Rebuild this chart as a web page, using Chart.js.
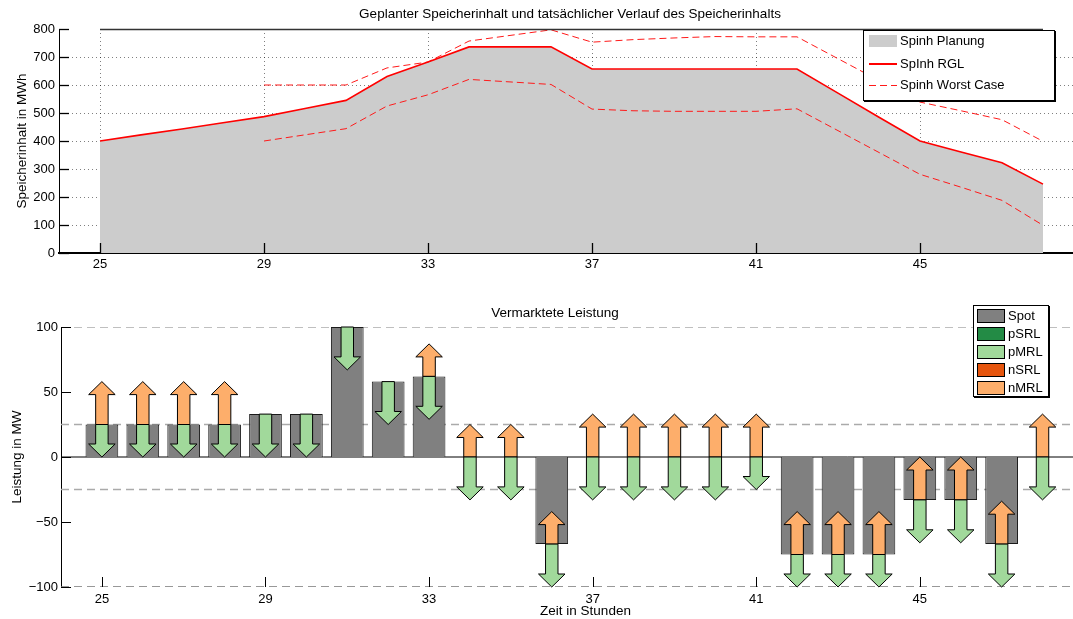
<!DOCTYPE html>
<html lang="de">
<head>
<meta charset="utf-8">
<title>Speicherinhalt und vermarktete Leistung</title>
<script src="https://cdn.jsdelivr.net/npm/chart.js@4.4.0/dist/chart.umd.min.js"></script>
<style>
  html, body { margin: 0; padding: 0; width: 1073px; height: 619px; overflow: hidden; background: #fff; }
  body { position: relative; font-family: "Liberation Sans", Arial, sans-serif; }
  #oben { position: absolute; left: 0; top: 0; }
  #unten { position: absolute; left: 0; top: 290px; }
  .legende { position: absolute; background: #fff; border: 1px solid #000; box-shadow: 1px 1px 0 #000; font-size: 13px; color: #000; }
  .legende .txt { position: absolute; white-space: nowrap; line-height: 16px; }
  .legende .feld { position: absolute; box-sizing: border-box; }
</style>
</head>
<body>
<canvas id="oben" width="1140" height="280"></canvas>
<canvas id="unten" width="1150" height="329"></canvas>
<div class="legende" id="legOben" style="left:863px; top:30px; width:190px; height:69px;"></div>
<div class="legende" id="legUnten" style="left:973px; top:305px; width:74px; height:90px;"></div>

<script>
// Stunden des Planungshorizonts
const stunden = [25, 26, 27, 28, 29, 30, 31, 32, 33, 34, 35, 36, 37, 38, 39, 40, 41, 42, 43, 44, 45, 46, 47, 48];
const xTicks = [25, 29, 33, 37, 41, 45];

// Speicherinhalt in MWh
const spinhPlanung = [400, 422, 443, 465, 487, 516, 545, 630, 682, 736, 736, 736, 657, 657, 657, 657, 657, 657, 571, 485, 400, 361, 322, 246];
const spinhRGL     = [400, 422, 443, 465, 487, 516, 545, 630, 682, 736, 736, 736, 657, 657, 657, 657, 657, 657, 571, 485, 400, 361, 322, 246];
const worstOben    = [null, null, null, null, 600, 600, 600, 661, 682, 757, 777, 797, 753, 762, 768, 773, 772, 772, 694, 616, 539, 508, 476, 399];
const worstUnten   = [null, null, null, null, 400, 422, 444, 525, 565, 620, 611, 602, 514, 508, 506, 506, 506, 515, 437, 359, 281, 235, 188, 99];
const yTicksOben = [0, 100, 200, 300, 400, 500, 600, 700, 800];

// Vermarktete Leistung in MW
const spot = [25, 25, 25, 25, 33, 33, 100, 58, 62, 0, 0, -67, 0, 0, 0, 0, 0, -75, -75, -75, -33, -33, -67, 0];
const pSRL = [0, 0, 0, 0, 0, 0, 0, 0, 0, 0, 0, 0, 0, 0, 0, 0, 0, 0, 0, 0, 0, 0, 0, 0];
const pMRL = [25, 25, 25, 25, 33, 33, 33, 33, 33, 33, 33, 33, 33, 33, 33, 33, 25, 25, 25, 25, 33, 33, 33, 33];
const nSRL = [0, 0, 0, 0, 0, 0, 0, 0, 0, 0, 0, 0, 0, 0, 0, 0, 0, 0, 0, 0, 0, 0, 0, 0];
const nMRL = [33, 33, 33, 33, 0, 0, 0, 0, 25, 25, 25, 25, 33, 33, 33, 33, 33, 33, 33, 33, 33, 33, 33, 33];
const grenzen = [100, 25, -25, -100];
const yTicksUnten = [-100, -50, 0, 50, 100];

// sichtbarer Zeitbereich der Achsen
const xMin = 24;
const xMaxOben = 49;
const xMaxUnten = 49.65;

const schrift = '"Liberation Sans", Arial, sans-serif';
Chart.defaults.font.family = schrift;
Chart.defaults.font.size = 13;
Chart.defaults.color = '#000';

function punkte(werte) {
    return stunden.map((h, i) => ({ x: h, y: werte[i] }));
}

// Pfeile: vom Spot-Wert aus nach oben (n) oder unten (p)
function pfeilDaten(menge, richtung) {
    const out = [];
    stunden.forEach((h, i) => {
        if (menge[i] !== 0) out.push({ x: h, y: [spot[i], spot[i] + richtung * menge[i]] });
    });
    return out;
}

// kleine Striche nach innen, wie bei Matlab
const innenTicks = {
    id: 'innenTicks',
    afterDraw(chart, args, opts) {
        const { ctx, chartArea: a, scales } = chart;
        const len = opts.laenge || 10;
        ctx.save();
        ctx.strokeStyle = '#000';
        ctx.lineWidth = opts.breite || 1;
        scales.x.ticks.forEach(t => {
            const px = Math.round(scales.x.getPixelForValue(t.value)) + 0.5;
            ctx.beginPath();
            ctx.moveTo(px, a.bottom);
            ctx.lineTo(px, a.bottom - len);
            ctx.stroke();
        });
        scales.y.ticks.forEach(t => {
            const py = Math.round(scales.y.getPixelForValue(t.value)) + 0.5;
            ctx.beginPath();
            ctx.moveTo(a.left, py);
            ctx.lineTo(a.left + len, py);
            ctx.stroke();
        });
        ctx.restore();
    }
};

// obere Rahmenlinie nur ueber dem Datenbereich
const rahmenOben = {
    id: 'rahmenOben',
    afterDraw(chart) {
        const { ctx, scales } = chart;
        const py = Math.round(scales.y.getPixelForValue(scales.y.max)) + 0.5;
        ctx.save();
        ctx.strokeStyle = '#333';
        ctx.lineWidth = 1.5;
        ctx.beginPath();
        ctx.moveTo(scales.x.getPixelForValue(stunden[0]), py);
        ctx.lineTo(scales.x.getPixelForValue(stunden[stunden.length - 1]), py);
        ctx.stroke();
        ctx.restore();
    }
};

// zeichnet die Regelleistungs-Balken als Pfeile (Start = Spot, Ende = Spot +/- Menge)
const pfeile = {
    id: 'pfeile',
    afterDatasetsDraw(chart) {
        const { ctx, scales } = chart;
        const ys = scales.y;
        const kopf = Math.abs(ys.getPixelForValue(0) - ys.getPixelForValue(10));
        const liste = chart.data.datasets.map((ds, i) => i).filter(i => chart.data.datasets[i].pfeilFarbe).reverse();
        ctx.save();
        ctx.beginPath();
        ctx.rect(chart.chartArea.left, chart.chartArea.top - 2, chart.chartArea.width, chart.chartArea.height + 4);
        ctx.clip();
        liste.forEach(i => {
            const ds = chart.data.datasets[i];
            const meta = chart.getDatasetMeta(i);
            ds.data.forEach((d, j) => {
                const el = meta.data[j];
                if (!el) return;
                const px = el.x;
                const start = ys.getPixelForValue(d.y[0]);
                const ende = ys.getPixelForValue(d.y[1]);
                const dir = ende > start ? 1 : -1;
                const hw = el.width / 2;
                const sw = el.width * 0.235;
                const hy = ende - dir * kopf;
                ctx.beginPath();
                ctx.moveTo(px - sw, start);
                ctx.lineTo(px - sw, hy);
                ctx.lineTo(px - hw, hy);
                ctx.lineTo(px, ende);
                ctx.lineTo(px + hw, hy);
                ctx.lineTo(px + sw, hy);
                ctx.lineTo(px + sw, start);
                ctx.closePath();
                ctx.fillStyle = ds.pfeilFarbe;
                ctx.fill();
                ctx.strokeStyle = '#000';
                ctx.lineWidth = 1;
                ctx.stroke();
            });
        });
        ctx.restore();
    }
};

// leere rechte Achse, damit der Titel ueber die ganze Breite zentriert bleibt
const rechtsLeer = (breite) => ({
    position: 'right',
    display: true,
    afterFit: s => { s.width = breite; },
    grid: { display: false },
    border: { display: false },
    ticks: { display: false }
});

// ---------- Speicherinhalt ----------
new Chart(document.getElementById('oben'), {
    type: 'line',
    data: {
        datasets: [
            { label: 'SpInh RGL', data: punkte(spinhRGL), borderColor: '#ff0000', borderWidth: 1.6, pointRadius: 0, fill: false, order: 1 },
            { label: 'Spinh Worst Case', data: punkte(worstOben), borderColor: '#ff1a1a', borderWidth: 1, borderDash: [7, 4], pointRadius: 0, fill: false, order: 2 },
            { label: 'Spinh Worst Case', data: punkte(worstUnten), borderColor: '#ff1a1a', borderWidth: 1, borderDash: [7, 4], pointRadius: 0, fill: false, order: 3 },
            { label: 'Spinh Planung', data: punkte(spinhPlanung), borderWidth: 0, backgroundColor: '#cccccc', pointRadius: 0, fill: 'origin', order: 4 }
        ]
    },
    options: {
        responsive: false,
        animation: false,
        devicePixelRatio: 1,
        layout: { padding: 0 },
        plugins: {
            legend: { display: false },
            tooltip: { enabled: false },
            title: {
                display: true,
                text: 'Geplanter Speicherinhalt und tatsächlicher Verlauf des Speicherinhalts',
                font: { size: 13.5, weight: 'normal' },
                color: '#000',
                padding: { top: 5.9, bottom: 6.9 }
            },
            innenTicks: { laenge: 10, breite: 1.3 }
        },
        scales: {
            x: {
                type: 'linear', min: xMin, max: xMaxOben, z: 1, offset: false,
                afterBuildTicks: s => { s.ticks = xTicks.map(v => ({ value: v })); },
                afterFit: s => { s.height = 27; },
                grid: { color: 'rgba(0,0,0,0.5)', drawTicks: false },
                border: { display: true, color: '#000', width: 2, dash: [1, 3] },
                ticks: { padding: 4, maxRotation: 0, autoSkip: false }
            },
            y: {
                min: 0, max: 800, z: 1,
                afterBuildTicks: s => { s.ticks = yTicksOben.map(v => ({ value: v })); },
                afterFit: s => { s.width = 59; },
                grid: {
                    color: c => (c.tick && (c.tick.value === 0 || c.tick.value === 800)) ? 'rgba(0,0,0,0)' : 'rgba(0,0,0,0.5)',
                    drawTicks: false
                },
                border: { display: true, color: '#000', width: 1, dash: [1, 3] },
                ticks: { padding: 4 },
                title: { display: true, text: 'Speicherinhalt in MWh', font: { size: 13.5 }, padding: { top: 13.9, bottom: 0 } }
            },
            rechts: rechtsLeer(56)
        }
    },
    plugins: [innenTicks, rahmenOben]
});

// ---------- Vermarktete Leistung ----------
const refLinien = grenzen.map(g => ({
    type: 'line',
    label: 'Grenze ' + g,
    data: [{ x: xMin, y: g }, { x: xMaxUnten, y: g }],
    borderColor: g === -100 ? '#777777' : '#aaaaaa',
    borderWidth: 1.3,
    borderDash: [8, 5],
    pointRadius: 0,
    order: 10
}));

const pfeilSet = (label, daten, farbe) => ({
    type: 'bar',
    label: label,
    data: daten,
    pfeilFarbe: farbe,
    backgroundColor: 'rgba(0,0,0,0)',
    borderWidth: 0,
    barPercentage: 0.648,
    categoryPercentage: 1,
    grouped: false,
    order: 3
});

new Chart(document.getElementById('unten'), {
    data: {
        datasets: [
            { type: 'bar', label: 'Spot', data: punkte(spot), backgroundColor: '#808080', borderColor: '#1a1a1a', borderWidth: 1, barPercentage: 0.8, categoryPercentage: 1, grouped: false, order: 5 },
            pfeilSet('pSRL', pfeilDaten(pSRL, -1), '#238b45'),
            pfeilSet('pMRL', pfeilDaten(pMRL, -1), '#a1d99b'),
            pfeilSet('nSRL', pfeilDaten(nSRL, 1), '#e6550d'),
            pfeilSet('nMRL', pfeilDaten(nMRL, 1), '#fdae6b'),
            { type: 'line', label: 'Null', data: [{ x: xMin, y: 0 }, { x: xMaxUnten, y: 0 }], borderColor: '#000', borderWidth: 1, pointRadius: 0, order: 9 },
            ...refLinien
        ]
    },
    options: {
        responsive: false,
        animation: false,
        devicePixelRatio: 1,
        layout: { padding: { left: 0, top: 0, bottom: 0, right: 40 } },
        plugins: {
            legend: { display: false },
            tooltip: { enabled: false },
            title: {
                display: true,
                text: 'Vermarktete Leistung',
                font: { size: 13.5, weight: 'normal' },
                color: '#000',
                padding: { top: 14.9, bottom: 5.9 }
            },
            innenTicks: { laenge: 10, breite: 1 }
        },
        scales: {
            x: {
                type: 'linear', min: xMin, max: xMaxUnten, offset: false,
                afterBuildTicks: s => { s.ticks = xTicks.map(v => ({ value: v })); },
                afterFit: s => { s.height = 32; },
                grid: { display: false, drawTicks: false, offset: false },
                border: { display: false },
                ticks: { padding: 5, maxRotation: 0, autoSkip: false },
                title: { display: true, text: 'Zeit in Stunden', font: { size: 13.5 }, padding: { top: 0, bottom: 0 } }
            },
            y: {
                min: -100, max: 100,
                afterBuildTicks: s => { s.ticks = yTicksUnten.map(v => ({ value: v })); },
                afterFit: s => { s.width = 61; },
                grid: { display: false, drawTicks: false },
                border: { display: true, color: '#000', width: 1 },
                ticks: { padding: 3, callback: v => String(v).replace('-', '\u2212') },
                title: { display: true, text: 'Leistung in MW', font: { size: 13.5 }, padding: { top: 8.9, bottom: 0 } }
            }
        }
    },
    plugins: [innenTicks, pfeile]
});

// ---------- Legenden ----------
const legendeOben = [
    { text: 'Spinh Planung', art: 'flaeche', farbe: '#cccccc' },
    { text: 'SpInh RGL', art: 'linie', farbe: '#ff0000' },
    { text: 'Spinh Worst Case', art: 'strich', farbe: '#ff1a1a' }
];
const legendeUnten = [
    { text: 'Spot', farbe: '#808080' },
    { text: 'pSRL', farbe: '#238b45' },
    { text: 'pMRL', farbe: '#a1d99b' },
    { text: 'nSRL', farbe: '#e6550d' },
    { text: 'nMRL', farbe: '#fdae6b' }
];

const legOben = document.getElementById('legOben');
const zeilenOben = [10, 33, 54];
legendeOben.forEach((e, i) => {
    const y = zeilenOben[i];
    const f = document.createElement('div');
    f.className = 'feld';
    f.style.left = '5px';
    f.style.width = '28px';
    if (e.art === 'flaeche') {
        f.style.top = (y - 6) + 'px';
        f.style.height = '12px';
        f.style.background = e.farbe;
    } else if (e.art === 'linie') {
        f.style.top = (y - 1) + 'px';
        f.style.height = '2px';
        f.style.background = e.farbe;
    } else {
        f.style.top = y + 'px';
        f.style.height = '1px';
        f.style.background = 'repeating-linear-gradient(to right, ' + e.farbe + ' 0 7px, transparent 7px 11px)';
    }
    legOben.appendChild(f);
    const t = document.createElement('div');
    t.className = 'txt';
    t.style.left = '36px';
    t.style.top = (y - 8) + 'px';
    t.textContent = e.text;
    legOben.appendChild(t);
});

const legUnten = document.getElementById('legUnten');
legendeUnten.forEach((e, i) => {
    const y = 10 + i * 18;
    const f = document.createElement('div');
    f.className = 'feld';
    f.style.left = '3px';
    f.style.top = (y - 7) + 'px';
    f.style.width = '28px';
    f.style.height = '14px';
    f.style.background = e.farbe;
    f.style.border = '1px solid #000';
    legUnten.appendChild(f);
    const t = document.createElement('div');
    t.className = 'txt';
    t.style.left = '34px';
    t.style.top = (y - 8) + 'px';
    t.textContent = e.text;
    legUnten.appendChild(t);
});
</script>
</body>
</html>
